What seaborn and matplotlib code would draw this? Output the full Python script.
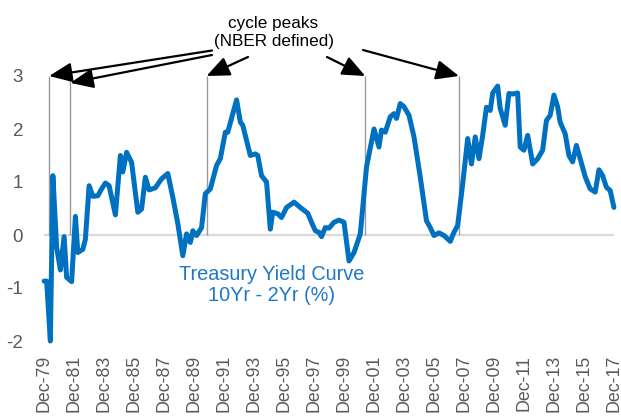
import matplotlib
matplotlib.use("Agg")
import matplotlib.pyplot as plt
import matplotlib.dates as mdates
from matplotlib import font_manager as fm
import seaborn as sns
import pandas as pd

# ---- data ----
months_since_dec79 = [0, 2, 5, 7, 10, 13, 16, 18, 22, 25, 27, 31, 33, 36, 39, 43, 46, 49, 52, 57,
                      61, 63, 66, 70, 75, 78, 81, 84, 89, 94, 99, 103, 107, 111, 114, 117, 119, 122,
                      126, 129, 133, 138, 141, 145, 147, 154, 157, 159, 165, 169, 171, 174, 178, 181,
                      183, 187, 190, 194, 200, 205, 211, 214, 217, 220, 222, 225, 228, 232, 236, 240,
                      244, 248, 253, 256, 258, 264, 268, 270, 273, 277, 280, 282, 285, 288, 292, 296,
                      301, 306, 309, 312, 316, 320, 325, 328, 331, 335, 339, 342, 345, 348, 351, 354,
                      357, 359, 363, 365, 369, 372, 375, 379, 381, 384, 387, 391, 395, 399, 402, 405,
                      408, 411, 413, 417, 420, 423, 426, 429, 433, 437, 441, 444, 447, 450, 453, 456]
spread = [-0.87, -0.87, -2.00, 1.12, -0.23, -0.66, -0.03, -0.80, -0.88, 0.35, -0.33, -0.27, -0.08,
          0.93, 0.73, 0.74, 0.87, 0.98, 0.93, 0.38, 1.50, 1.19, 1.56, 1.37, 0.43, 0.49, 1.09, 0.85,
          0.89, 1.06, 1.16, 0.71, 0.21, -0.39, 0.02, -0.14, 0.08, -0.01, 0.14, 0.78, 0.87, 1.31,
          1.44, 1.94, 1.94, 2.55, 2.13, 2.07, 1.50, 1.53, 1.50, 1.12, 1.00, 0.11, 0.43, 0.40, 0.33,
          0.52, 0.62, 0.52, 0.41, 0.24, 0.08, 0.05, -0.03, 0.14, 0.13, 0.24, 0.28, 0.24, -0.49,
          -0.33, 0.02, 0.78, 1.28, 2.00, 1.66, 1.98, 1.94, 2.23, 2.29, 2.20, 2.48, 2.42, 2.26, 1.85,
          1.09, 0.27, 0.14, -0.01, 0.04, -0.01, -0.12, 0.05, 0.18, 0.97, 1.82, 1.34, 1.85, 1.44,
          1.88, 2.41, 2.35, 2.68, 2.81, 2.39, 2.07, 2.67, 2.66, 2.68, 1.66, 1.60, 1.88, 1.34, 1.44,
          1.60, 2.16, 2.26, 2.64, 2.42, 2.13, 1.91, 1.50, 1.38, 1.69, 1.44, 1.10, 0.87, 0.81, 1.23,
          1.12, 0.90, 0.84, 0.52]
peak_months = [4, 21, 130, 257, 332]   # vertical marker lines (months after Dec-79)
peak_line_top = 3
yticks = [-2, -1, 0, 1, 2, 3]
series_label = "Treasury Yield Curve\n10Yr - 2Yr (%)"
note_label = "cycle peaks\n(NBER defined)"

start = pd.Period("1979-12", freq="M")
df = pd.DataFrame({
    "date": [(start + m).to_timestamp() for m in months_since_dec79],
    "spread": spread,
})
peak_dates = [(start + m).to_timestamp() for m in peak_months]
tick_dates = [(start + 24 * k).to_timestamp() for k in range(20)]

# ---- style ----
sns.set_theme(style="white")
names = {f.name for f in fm.fontManager.ttflist}
narrow = "Liberation Sans Narrow" in names
fam = ["Liberation Sans Narrow", "Liberation Sans", "DejaVu Sans"] if narrow else ["Liberation Sans", "DejaVu Sans"]
plt.rcParams["font.family"] = fam
k = 1.18 if narrow else 1.0

W, H = 621, 418
fig = plt.figure(figsize=(W / 100, H / 100), dpi=100)
ax = fig.add_axes([44 / W, 1 - 341 / H, (614 - 44) / W, (341 - 76) / H])

ax.axhline(0, color="#D9D9D9", lw=1.6, zorder=1)
ax.vlines(peak_dates, 0, peak_line_top, color="#9A9A9A", lw=1.0, zorder=2)

sns.lineplot(data=df, x="date", y="spread", ax=ax, color="#0070C0", lw=3.6,
             zorder=3, clip_on=False)

ax.set_ylim(-2, 3)
ax.set_xlim(pd.Timestamp("1979-11-28"), pd.Timestamp("2017-12-03"))
ax.set_yticks(yticks)
ax.set_yticklabels([str(t) for t in yticks])
ax.set_xticks(tick_dates)
ax.xaxis.set_major_formatter(mdates.DateFormatter("%b-%y"))
ax.tick_params(axis="x", rotation=90, labelsize=12.8 * k, colors="#595959", length=0, pad=10)
ax.tick_params(axis="y", labelsize=13.5 * k, colors="#595959", length=0, pad=15)
for lab in ax.get_xticklabels():
    lab.set_va("top")
ax.set_xlabel("")
ax.set_ylabel("")
for s in ax.spines.values():
    s.set_visible(False)
ax.grid(False)

# series label
fig.text(272 / W, 1 - 285 / H, series_label, ha="center", va="center",
         color="#1F77C8", fontsize=14.3 * k, linespacing=1.1)

# annotation text
fig.text(273.5 / W, 1 - 32.5 / H, note_label, ha="center", va="center",
         color="black", fontsize=12.3 * k, linespacing=1.3)

# arrows: (tail in figure pixels from top-left), tip at top of each peak line
arrow_tails = [(212, 50.5), (212, 55), (248, 57), (327, 57), (363, 50)]
tip_vals = [3.0, 2.87, 3.0, 3.0, 3.0]
for d, (tx, ty), tv in zip(peak_dates, arrow_tails, tip_vals):
    ax.annotate("", xy=(mdates.date2num(d), tv), xycoords="data",
                xytext=(tx, H - ty), textcoords="figure pixels",
                arrowprops=dict(arrowstyle="-|>,head_length=0.7,head_width=0.3",
                                mutation_scale=20, lw=1.6, color="black",
                                shrinkA=0, shrinkB=0),
                annotation_clip=False)

fig.savefig("out.png", dpi=100)
